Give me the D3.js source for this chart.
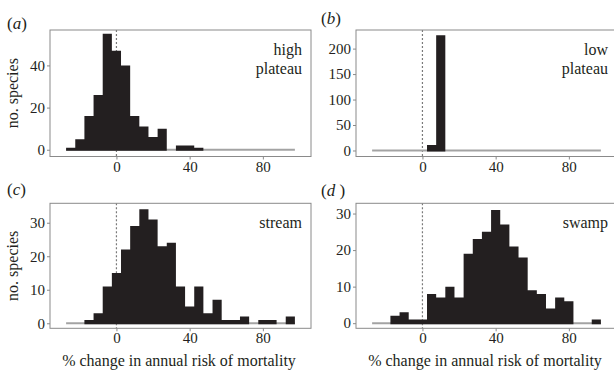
<!DOCTYPE html>
<html>
<head>
<meta charset="utf-8">
<script src="https://cdn.jsdelivr.net/npm/d3@7/dist/d3.min.js"></script>
<style>
  body { margin: 0; background: #fff; }
</style>
</head>
<body>
<div id="chart"></div>
<script>
// histogram bin centres (% change in annual risk of mortality), bins are 5 wide
var binCentres = [-25, -20, -15, -10, -5, 0, 5, 10, 15, 20, 25, 30, 35, 40, 45, 50, 55, 60, 65, 70, 75, 80, 85, 90, 95];

// no. species in each bin
var highPlateau = [1, 5, 16, 26, 55, 47, 40, 16, 11, 6, 10, 0, 2, 2, 1, 0, 0, 0, 0, 0, 0, 0, 0, 0, 0];
var lowPlateau  = [0, 0, 0, 0, 0, 0, 11, 226, 0, 0, 0, 0, 0, 0, 0, 0, 0, 0, 0, 0, 0, 0, 0, 0, 0];
var stream      = [0, 0, 1, 3, 11, 15, 22, 29, 34, 31, 23, 24, 11, 5, 11, 3, 7, 1, 1, 2, 0, 1, 1, 0, 2];
var swamp       = [0, 0, 2, 3, 1, 1, 8, 7, 10, 7, 19, 23, 25, 31, 27, 21, 18, 9, 8, 4, 7, 6, 0, 0, 1];

// tick labels
var xTicks = [0, 40, 80];
var yTicksHigh = [0, 20, 40];
var yTicksLow = [0, 50, 100, 150, 200];
var yTicksStream = [0, 10, 20, 30];
var yTicksSwamp = [0, 10, 20, 30];

var panelNames = [["high", "plateau"], ["low", "plateau"], ["stream"], ["swamp"]];
var panelTags = ["a", "b", "c", "d "];

// layout of the four panels
var panels = [
  {data: highPlateau, yTicks: yTicksHigh,   yDomain: [-3.2, 56.8],  x0: 50,  y0: 30,    h: 126.5, tag: [7, 28.5],  left: true,  bottom: false},
  {data: lowPlateau,  yTicks: yTicksLow,    yDomain: [-11.8, 236.5], x0: 356, y0: 30,    h: 126.5, tag: [321, 24], left: false, bottom: false},
  {data: stream,      yTicks: yTicksStream, yDomain: [-1.5, 35.8],  x0: 50,  y0: 203.3, h: 125,   tag: [7, 195],   left: true,  bottom: true},
  {data: swamp,       yTicks: yTicksSwamp,  yDomain: [-1.4, 32.8],  x0: 356, y0: 203.3, h: 125,   tag: [321, 196], left: false, bottom: true}
];
var panelWidth = 261;
var xDomain = [-36.3, 106.3];
var half = 2.5;
var serif = "'Liberation Serif', 'Times New Roman', serif";

var svg = d3.select("#chart")
  .append("svg")
    .attr("width", 614)
    .attr("height", 370);

panels.forEach(function(p, i) {
  var x = d3.scaleLinear().domain(xDomain).range([p.x0, p.x0 + panelWidth]);
  var y = d3.scaleLinear().domain(p.yDomain).range([p.y0 + p.h, p.y0]);

  var g = svg.append("g");

  // dotted line at zero
  g.append("line")
    .attr("x1", x(0)).attr("x2", x(0))
    .attr("y1", p.y0).attr("y2", p.y0 + p.h)
    .attr("stroke", "#7a7a7a")
    .attr("stroke-width", 1.2)
    .attr("stroke-dasharray", "2,2");

  // grey base line under the whole histogram range
  g.append("line")
    .attr("x1", x(binCentres[0] - half))
    .attr("x2", x(binCentres[binCentres.length - 1] + half))
    .attr("y1", y(0)).attr("y2", y(0))
    .attr("stroke", "#a3a3a3")
    .attr("stroke-width", 2);

  // histogram as one stepped area (left bin edges, then closing edge)
  var steps = binCentres.map(function(c, j) { return {e: c - half, n: p.data[j]}; });
  steps.push({e: binCentres[binCentres.length - 1] + half, n: 0});
  var area = d3.area()
    .curve(d3.curveStepAfter)
    .x(function(d) { return x(d.e); })
    .y0(y(0) + 1)
    .y1(function(d) { return d.n > 0 ? y(d.n) : y(0) + 1; });
  g.append("path")
    .datum(steps)
    .attr("d", area)
    .attr("fill", "#231f20");

  // panel frame
  g.append("rect")
    .attr("x", p.x0).attr("y", p.y0)
    .attr("width", panelWidth).attr("height", p.h)
    .attr("fill", "none")
    .attr("stroke", "#8a8a8a")
    .attr("stroke-width", 1);

  // axes
  var yAxis = g.append("g")
    .attr("transform", "translate(" + p.x0 + ",0)")
    .call(d3.axisLeft(y).tickValues(p.yTicks).tickSize(3).tickPadding(2));
  var xAxis = g.append("g")
    .attr("transform", "translate(0," + (p.y0 + p.h) + ")")
    .call(d3.axisBottom(x).tickValues(xTicks).tickSize(3).tickPadding(1.5));
  [xAxis, yAxis].forEach(function(a) {
    a.select(".domain").remove();
    a.selectAll(".tick line").attr("stroke", "#8a8a8a");
    a.selectAll(".tick text")
      .style("font-family", serif)
      .style("font-size", "15px")
      .attr("fill", "#231f20");
  });

  // habitat name
  var nm = g.append("text")
    .attr("text-anchor", "end")
    .style("font-family", serif)
    .style("font-size", "16px")
    .attr("fill", "#231f20");
  panelNames[i].forEach(function(s, k) {
    nm.append("tspan")
      .attr("x", p.x0 + 252)
      .attr("y", p.y0 + 24.5 + k * 19.5)
      .text(s);
  });

  // panel tag
  var t = g.append("text")
    .attr("x", p.tag[0]).attr("y", p.tag[1])
    .style("font-family", serif)
    .style("font-size", "17px")
    .attr("fill", "#231f20");
  t.append("tspan").text("(");
  t.append("tspan").style("font-style", "italic").text(panelTags[i]);
  t.append("tspan").text(")");

  if (p.left) {
    g.append("text")
      .attr("transform", "translate(18," + (p.y0 + p.h / 2) + ") rotate(-90)")
      .attr("text-anchor", "middle")
      .style("font-family", serif)
      .style("font-size", "16px")
      .attr("fill", "#231f20")
      .text("no. species");
  }
  if (p.bottom) {
    g.append("text")
      .attr("x", p.x0 + 129)
      .attr("y", 366)
      .attr("text-anchor", "middle")
      .style("font-family", serif)
      .style("font-size", "16px")
      .attr("fill", "#231f20")
      .text("% change in annual risk of mortality");
  }
});
</script>
</body>
</html>
